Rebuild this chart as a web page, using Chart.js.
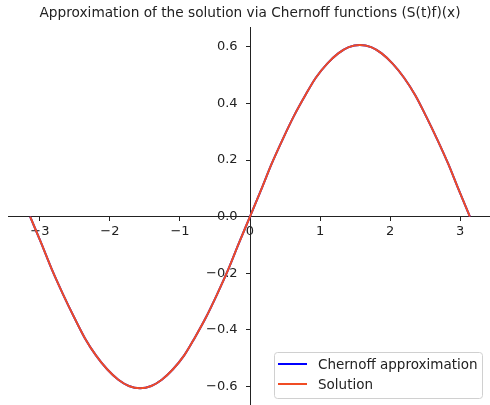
<!DOCTYPE html>
<html>
<head>
<meta charset="utf-8">
<script src="https://cdn.jsdelivr.net/npm/chart.js@4"></script>
<style>
  html, body { margin: 0; padding: 0; background: #fff; overflow: hidden; }
  #wrap { width: 490px; height: 405px; overflow: hidden; }
  #wrap div { width: 500px; height: 413px; }
</style>
</head>
<body>
<div id="wrap"><div><canvas id="container"></canvas></div></div>
<script>
const xs = [-3.14, -2.98, -2.83, -2.67, -2.51, -2.36, -2.20, -2.04, -1.88, -1.73, -1.57,
  -1.41, -1.26, -1.10, -0.94, -0.79, -0.63, -0.47, -0.31, -0.16, 0,
  0.16, 0.31, 0.47, 0.63, 0.79, 0.94, 1.10, 1.26, 1.41, 1.57,
  1.73, 1.88, 2.04, 2.20, 2.36, 2.51, 2.67, 2.83, 2.98, 3.14];
const chernoffY = [0, -0.095, -0.187, -0.275, -0.357, -0.429, -0.491, -0.540, -0.577, -0.599, -0.607,
  -0.599, -0.577, -0.540, -0.491, -0.429, -0.357, -0.275, -0.187, -0.095, 0,
  0.095, 0.187, 0.275, 0.357, 0.429, 0.491, 0.540, 0.577, 0.599, 0.607,
  0.599, 0.577, 0.540, 0.491, 0.429, 0.357, 0.275, 0.187, 0.095, 0];
const solutionY = [0, -0.095, -0.187, -0.275, -0.357, -0.429, -0.491, -0.540, -0.577, -0.599, -0.607,
  -0.599, -0.577, -0.540, -0.491, -0.429, -0.357, -0.275, -0.187, -0.095, 0,
  0.095, 0.187, 0.275, 0.357, 0.429, 0.491, 0.540, 0.577, 0.599, 0.607,
  0.599, 0.577, 0.540, 0.491, 0.429, 0.357, 0.275, 0.187, 0.095, 0];
const xTicks = [-3, -2, -1, 0, 1, 2, 3];
const yTicks = [-0.6, -0.4, -0.2, 0.0, 0.2, 0.4, 0.6];
const seriesNames = ["Chernoff approximation", "Solution"];
const seriesColors = ["#0000ff", "#f04c24"];

const minus = (s) => s.replace("-", "\u2212");

// matplotlib style legend in the lower right corner
const legendBox = {
  id: "legendBox",
  afterDraw(chart) {
    const ctx = chart.ctx;
    const x = 274, y = 352, w = 208, h = 46;
    ctx.save();
    ctx.fillStyle = "rgba(255,255,255,0.8)";
    ctx.strokeStyle = "#d0d0d0";
    ctx.lineWidth = 1;
    ctx.beginPath();
    ctx.roundRect(x + 0.5, y + 0.5, w, h, 3);
    ctx.fill();
    ctx.stroke();
    ctx.font = "13.5px 'DejaVu Sans'";
    ctx.textBaseline = "middle";
    seriesNames.forEach((name, i) => {
      const ly = y + 12 + i * 20;
      ctx.strokeStyle = seriesColors[i];
      ctx.lineWidth = 2;
      ctx.beginPath();
      ctx.moveTo(278, ly);
      ctx.lineTo(307, ly);
      ctx.stroke();
      ctx.fillStyle = "#222";
      ctx.fillText(name, 318, ly + 1);
    });
    ctx.restore();
  }
};

const data = {
  datasets: [
    {
      label: seriesNames[0],
      data: xs.map((x, i) => ({ x: x, y: chernoffY[i] })),
      borderColor: seriesColors[0],
      borderWidth: 2,
      pointRadius: 0,
      cubicInterpolationMode: "monotone",
      order: 1,
    },
    {
      label: seriesNames[1],
      data: xs.map((x, i) => ({ x: x, y: solutionY[i] })),
      borderColor: seriesColors[1],
      borderWidth: 2,
      pointRadius: 0,
      cubicInterpolationMode: "monotone",
      order: 0,
    },
  ],
};

const config = {
  type: "line",
  data: data,
  options: {
    animation: false,
    responsive: true,
    maintainAspectRatio: false,
    layout: { padding: { left: 8, right: 8, top: 0, bottom: 0 } },
    plugins: {
      legend: { display: false },
      tooltip: { enabled: false },
      title: {
        display: true,
        text: "Approximation of the solution via Chernoff functions (S(t)f)(x)",
        color: "#222",
        font: { family: "'DejaVu Sans'", size: 13.7, weight: "normal" },
        padding: { top: 5, bottom: 6.5 },
      },
    },
    scales: {
      x: {
        type: "linear",
        min: -3.456,
        max: 3.456,
        position: { y: 0 },
        afterBuildTicks: (axis) => { axis.ticks = xTicks.map((v) => ({ value: v })); },
        grid: { drawOnChartArea: false, drawTicks: true, tickLength: 4, color: "#222" },
        border: { display: true, color: "#222", width: 1 },
        ticks: {
          color: "#222",
          padding: 3,
          maxRotation: 0,
          font: { family: "'DejaVu Sans'", size: 13 },
          callback: (v) => minus(String(v)),
        },
      },
      y: {
        type: "linear",
        min: -0.667,
        max: 0.667,
        position: { x: 0 },
        afterBuildTicks: (axis) => { axis.ticks = yTicks.map((v) => ({ value: v })); },
        grid: { drawOnChartArea: false, drawTicks: true, tickLength: 4, color: "#222" },
        border: { display: true, color: "#222", width: 1 },
        ticks: {
          color: "#222",
          padding: 0,
          font: { family: "'DejaVu Sans'", size: 13 },
          // trailing spaces keep the labels clear of the tick marks
          callback: (v) => minus(v.toFixed(1)) + "   ",
        },
      },
    },
  },
  plugins: [legendBox],
};

const chart = new Chart(document.getElementById("container"), config);
</script>
</body>
</html>
